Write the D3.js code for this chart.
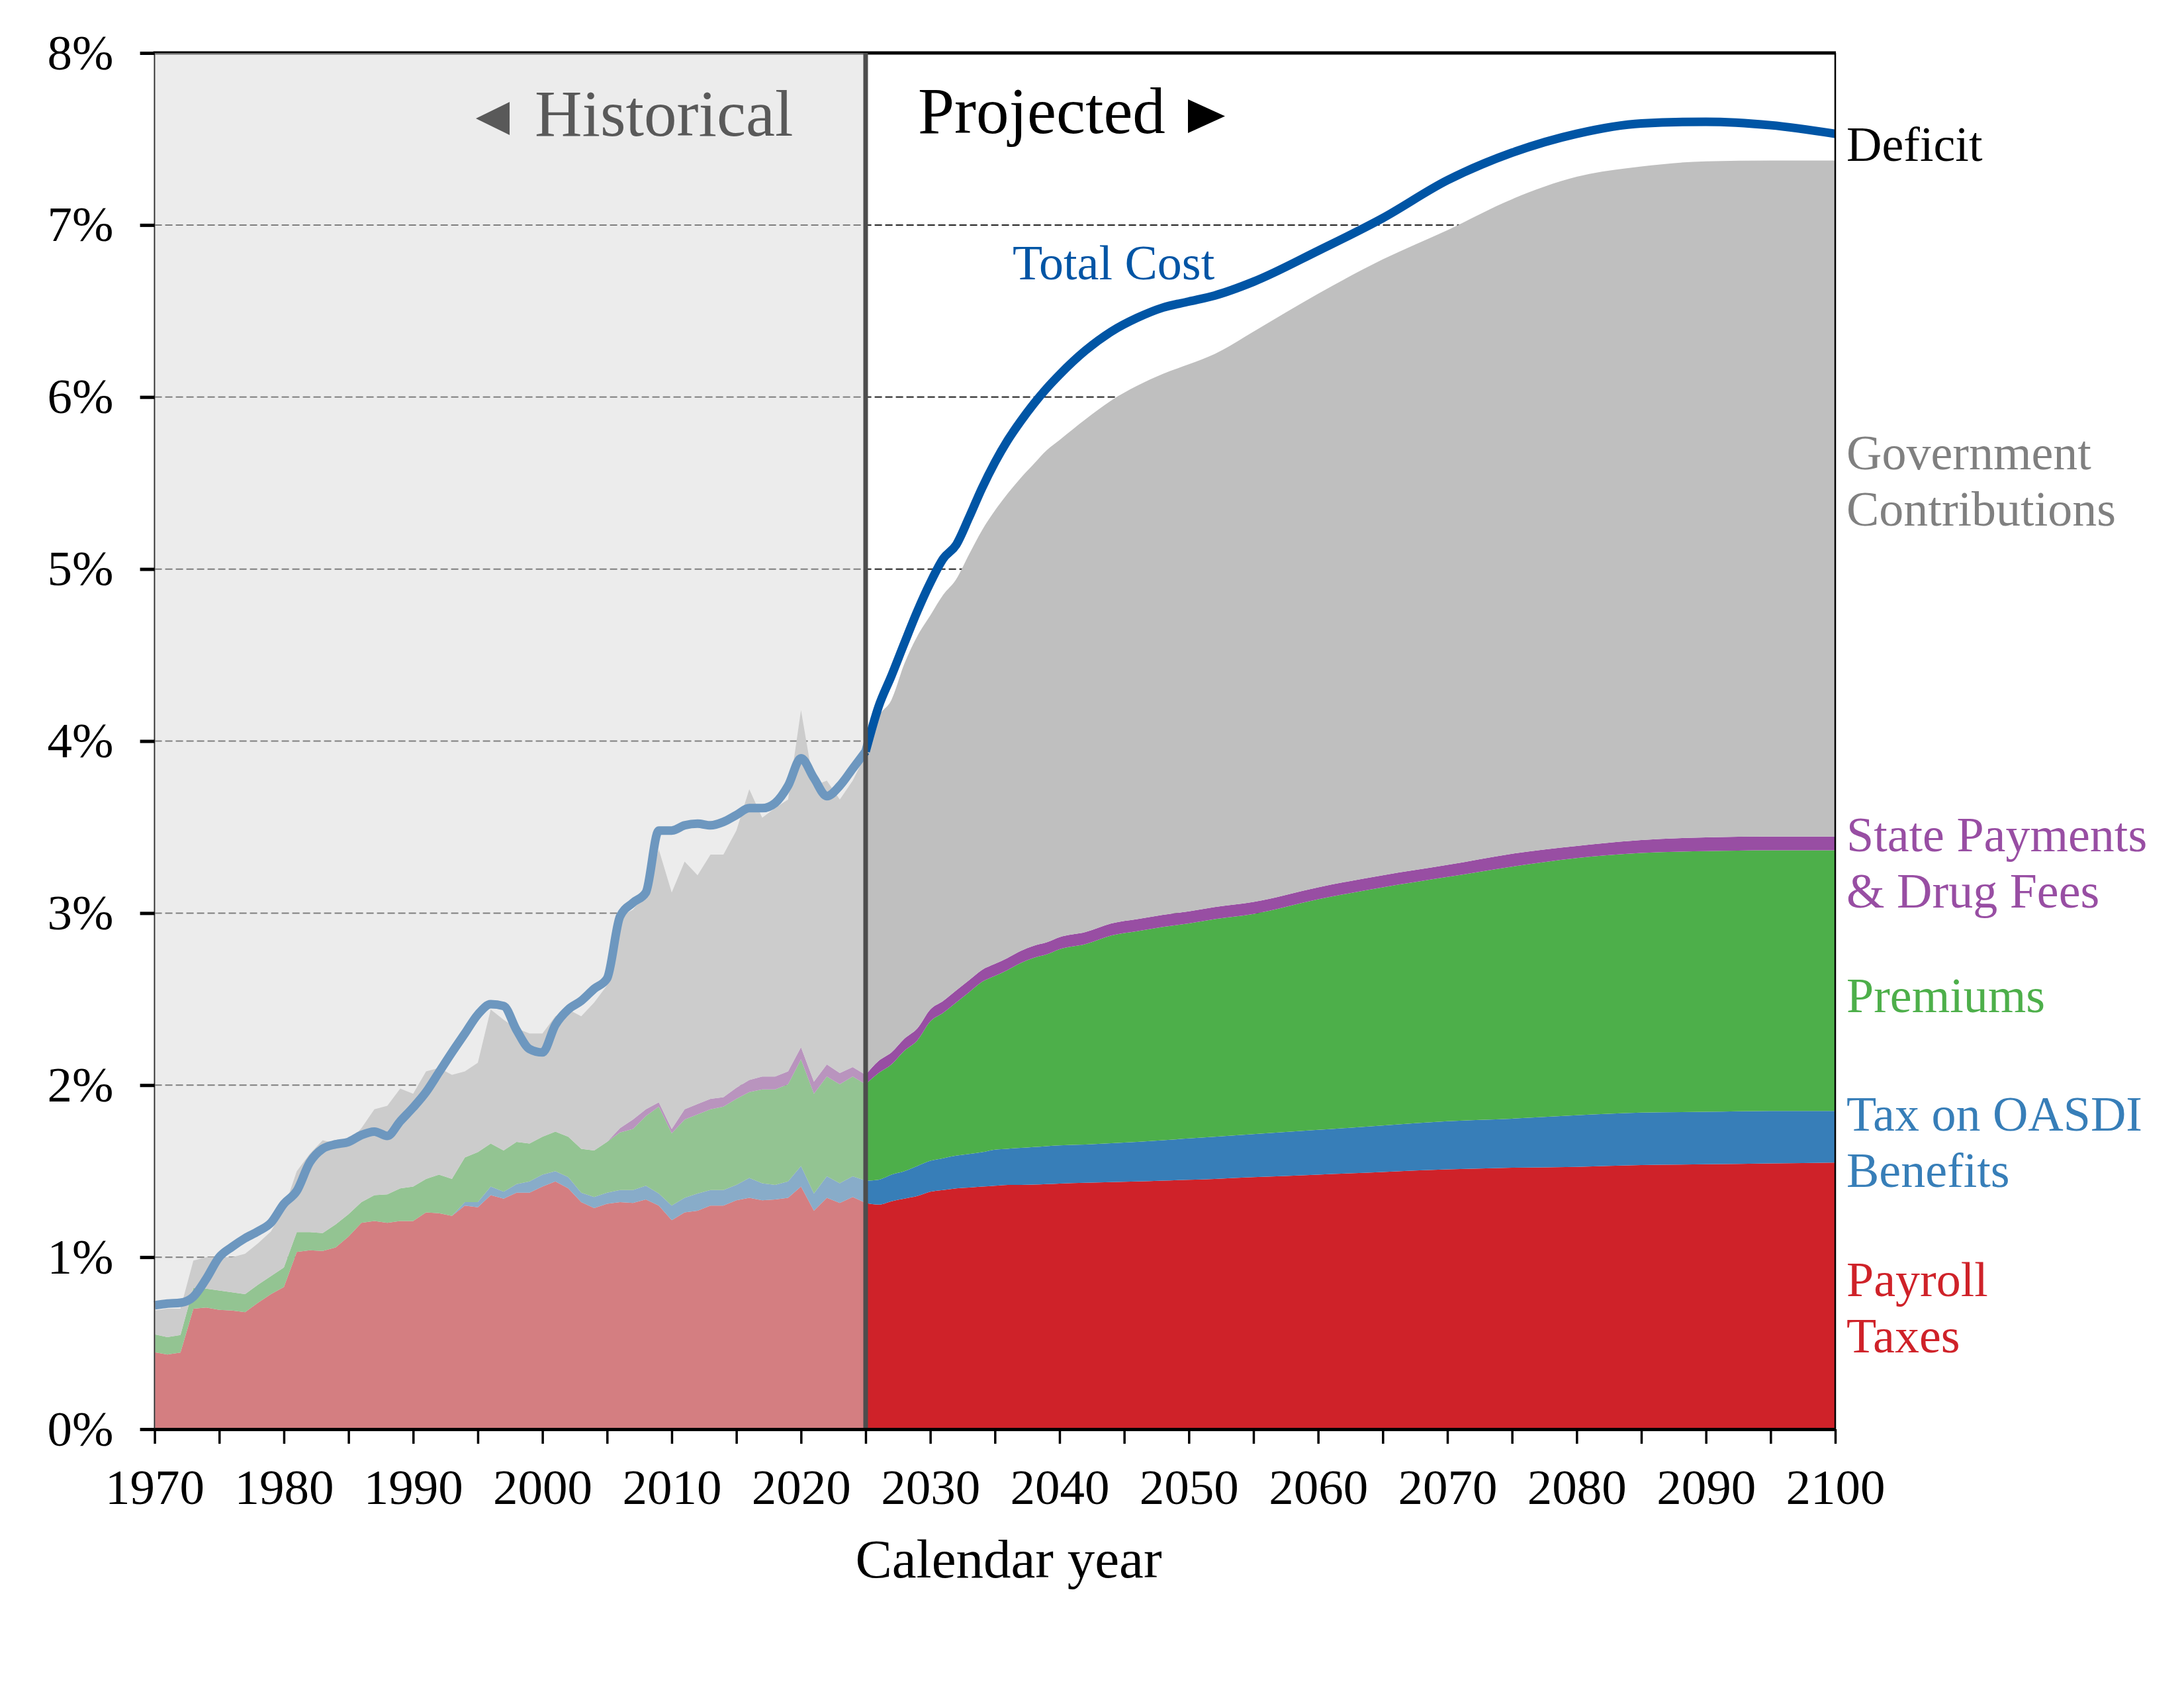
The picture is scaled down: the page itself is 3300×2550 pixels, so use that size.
<!DOCTYPE html>
<html lang="en">
<head>
    <meta charset="UTF-8">
    <title>SMI income and cost</title>
    <script src="https://cdn.jsdelivr.net/npm/d3@7"></script>
    <style>
        body{
            margin: 0;
            background: white;
        }
        text{
            font-family: "Liberation Serif", "Times New Roman", serif;
        }
    </style>
</head>
<body>
</body>
<script type="text/javascript">

    // historical years 1970-2025, percent of GDP
    let histYears = d3.range(1970, 2026);
    let histPayroll = [.447,.434,.445,.70,.707,.694,.69,.68,.735,.785,
        .826,1.03,1.04,1.036,1.056,1.12,1.20,1.21,1.20,1.21,
        1.21,1.26,1.255,1.24,1.30,1.29,1.36,1.34,1.375,1.375,
        1.41,1.44,1.40,1.32,1.285,1.31,1.32,1.315,1.335,1.30,
        1.215,1.26,1.27,1.30,1.30,1.33,1.345,1.33,1.335,1.345,
        1.41,1.27,1.345,1.315,1.35,1.315];
    let histOasdiTax = [0,0,0,0,0,0,0,0,0,0,
        0,0,0,0,0,0,0,0,0,0,
        0,0,0,0,.02,.03,.05,.04,.05,.065,
        .07,.06,.065,.055,.065,.065,.07,.075,.08,.07,
        .085,.085,.10,.09,.09,.09,.115,.10,.085,.095,
        .12,.10,.125,.115,.12,.13];
    let histPremiums = [.104,.101,.102,.12,.11,.112,.106,.105,.105,.105,
        .114,.116,.106,.104,.134,.13,.12,.15,.165,.19,
        .20,.195,.225,.215,.26,.29,.25,.24,.245,.22,
        .22,.23,.235,.255,.27,.295,.335,.355,.405,.505,
        .42,.455,.46,.47,.485,.50,.50,.545,.555,.565,
        .62,.58,.58,.575,.58,.56];
    let histStateDrug = [0,0,0,0,0,0,0,0,0,0,
        0,0,0,0,0,0,0,0,0,0,
        0,0,0,0,0,0,0,0,0,0,
        0,0,0,0,0,0,.025,.055,.04,.025,
        .025,.06,.06,.06,.055,.065,.07,.075,.075,.075,
        .07,.07,.07,.065,.055,.055];
    let histGovContrib = [.139,.165,.153,.16,.183,.194,.204,.235,.24,.26,
        .34,.354,.454,.54,.47,.42,.43,.50,.515,.58,
        .54,.625,.62,.605,.50,.52,.78,.76,.66,.64,
        .60,.67,.74,.77,.86,.91,1.23,1.22,1.25,1.47,
        1.375,1.44,1.33,1.42,1.41,1.495,1.69,1.505,1.56,1.58,
        1.96,1.72,1.65,1.59,1.665,1.86];
    let histTotalCost = [.72,.73,.735,.77,.875,1.00,1.06,1.11,1.15,1.20,
        1.31,1.385,1.55,1.63,1.656,1.67,1.71,1.73,1.705,1.79,
        1.87,1.96,2.075,2.19,2.30,2.41,2.47,2.46,2.32,2.21,
        2.19,2.35,2.44,2.49,2.56,2.62,2.98,3.06,3.12,3.48,
        3.48,3.51,3.52,3.51,3.53,3.57,3.61,3.61,3.64,3.74,
        3.90,3.785,3.68,3.74,3.84,3.94];

    // projected years
    let projYears = [2025,2026,2027,2028,2029,2030,2031,2032,2033,2034,2035,2036,2037,2038,2039,2040,
        2042,2044,2046,2048,2050,2052,2055,2060,2065,2070,2075,2080,2085,2090,2095,2100];
    let projPayroll = [1.315,1.305,1.325,1.34,1.355,1.38,1.39,1.40,1.405,1.41,1.415,1.42,1.42,1.422,1.425,1.428,
        1.432,1.436,1.44,1.445,1.45,1.455,1.465,1.48,1.495,1.51,1.52,1.525,1.535,1.54,1.545,1.55];
    let projOasdiTax = [.13,.145,.155,.16,.175,.18,.185,.19,.195,.20,.21,.21,.215,.218,.22,.222,
        .223,.226,.23,.235,.24,.245,.25,.26,.27,.28,.285,.30,.305,.305,.305,.30];
    let projPremiums = [.56,.62,.64,.70,.73,.81,.845,.89,.94,.99,1.01,1.04,1.075,1.10,1.115,1.14,
        1.165,1.208,1.225,1.24,1.25,1.265,1.28,1.34,1.385,1.42,1.465,1.495,1.51,1.515,1.515,1.515];
    let projStateDrug = [.055,.07,.07,.07,.07,.07,.07,.07,.07,.07,.07,.07,.07,.07,.07,.07,
        .07,.07,.07,.07,.07,.07,.07,.07,.07,.07,.075,.07,.075,.08,.08,.08];
    let projGovContrib = [1.86,2.00,2.05,2.18,2.28,2.29,2.36,2.39,2.475,2.555,2.635,2.70,2.75,2.80,2.86,2.89,
        2.98,3.04,3.10,3.145,3.18,3.215,3.315,3.45,3.58,3.69,3.805,3.89,3.915,3.93,3.93,3.93];
    let projTotalCost = [3.94,4.20,4.38,4.57,4.755,4.92,5.06,5.14,5.30,5.47,5.62,5.75,5.86,5.96,6.05,6.13,
        6.27,6.38,6.46,6.52,6.555,6.59,6.67,6.85,7.04,7.26,7.42,7.53,7.59,7.60,7.58,7.53];

    let yTicks = [0,1,2,3,4,5,6,7,8];
    let xTicks = d3.range(1970, 2101, 5);

    let keys = ["payroll","oasdiTax","premiums","stateDrug","govContrib"];
    let colors = {
        payroll: "#cf2229",
        oasdiTax: "#377eb8",
        premiums: "#4daf4a",
        stateDrug: "#984ea3",
        govContrib: "#bfbfbf"
    };

    function makeRows(years, payroll, oasdiTax, premiums, stateDrug, govContrib, cost){
        return years.map((yr,i)=>({
            year: yr,
            payroll: payroll[i],
            oasdiTax: oasdiTax[i],
            premiums: premiums[i],
            stateDrug: stateDrug[i],
            govContrib: govContrib[i],
            cost: cost[i]
        }));
    }
    let histRows = makeRows(histYears, histPayroll, histOasdiTax, histPremiums, histStateDrug, histGovContrib, histTotalCost);
    let projRows = makeRows(projYears, projPayroll, projOasdiTax, projPremiums, projStateDrug, projGovContrib, projTotalCost);

    let width = 3300;
    let height = 2550;
    let plotLeft = 233.6, plotRight = 2773, plotTop = 80, plotBottom = 2159;

    let svg = d3.select("body")
        .append("svg")
        .attr("width", width)
        .attr("height", height);

    let x = d3.scaleLinear().domain([1970, 2100]).range([plotLeft, plotRight]);
    let y = d3.scaleLinear().domain([0, 8]).range([plotBottom, plotTop]);

    // dashed gridlines (under the areas)
    svg.append("g")
        .selectAll("line")
        .data(yTicks.filter(d => d > 0 && d < 8))
        .join("line")
        .attr("x1", plotLeft)
        .attr("x2", plotRight)
        .attr("y1", d => y(d))
        .attr("y2", d => y(d))
        .attr("stroke", "#222")
        .attr("stroke-width", 2)
        .attr("stroke-dasharray", "11,5");

    let stack = d3.stack().keys(keys);

    function drawAreas(rows, curve){
        let area = d3.area()
            .x(d => x(d.data.year))
            .y0(d => y(d[0]))
            .y1(d => y(d[1]))
            .curve(curve);
        svg.append("g")
            .selectAll("path")
            .data(stack(rows))
            .join("path")
            .attr("fill", d => colors[d.key])
            .attr("d", area);
    }
    drawAreas(histRows, d3.curveLinear);
    drawAreas(projRows, d3.curveMonotoneX);

    function drawCost(rows){
        let line = d3.line()
            .x(d => x(d.year))
            .y(d => y(d.cost))
            .curve(d3.curveMonotoneX);
        svg.append("path")
            .datum(rows)
            .attr("fill", "none")
            .attr("stroke", "#0055a5")
            .attr("stroke-width", 13)
            .attr("stroke-linejoin", "round")
            .attr("d", line);
    }
    drawCost(histRows);
    drawCost(projRows);

    // frame
    svg.append("line")
        .attr("x1", plotLeft - 2).attr("x2", plotRight + 1)
        .attr("y1", plotTop).attr("y2", plotTop)
        .attr("stroke", "black").attr("stroke-width", 5);
    svg.append("line")
        .attr("x1", plotRight).attr("x2", plotRight)
        .attr("y1", plotTop).attr("y2", plotBottom)
        .attr("stroke", "black").attr("stroke-width", 2.5);
    svg.append("line")
        .attr("x1", plotLeft).attr("x2", plotLeft)
        .attr("y1", plotTop).attr("y2", plotBottom)
        .attr("stroke", "black").attr("stroke-width", 2);

    // historical shading
    svg.append("rect")
        .attr("x", x(1970))
        .attr("y", plotTop)
        .attr("width", x(2025) - x(1970))
        .attr("height", plotBottom - plotTop)
        .attr("fill", "#d9d9d9")
        .attr("fill-opacity", 0.5);
    svg.append("line")
        .attr("x1", x(2025)).attr("x2", x(2025))
        .attr("y1", plotTop).attr("y2", plotBottom)
        .attr("stroke", "#4d4d4d").attr("stroke-width", 7);

    // axes
    let xAxis = d3.axisBottom(x)
        .tickValues(xTicks)
        .tickFormat(d => d % 10 === 0 ? d : "")
        .tickSize(22)
        .tickSizeOuter(0)
        .tickPadding(38);
    let xAxisGroup = svg.append("g")
        .attr("transform", `translate(0,${plotBottom})`);
    xAxis(xAxisGroup);
    xAxisGroup.attr("font-family", "Liberation Serif").attr("font-size", 75);
    xAxisGroup.select(".domain").attr("stroke-width", 5);
    xAxisGroup.selectAll(".tick line").attr("stroke-width", 3.5);

    let yAxis = d3.axisLeft(y)
        .tickValues(yTicks)
        .tickFormat(d => d + "%")
        .tickSize(22)
        .tickPadding(40);
    let yAxisGroup = svg.append("g")
        .attr("transform", `translate(${plotLeft},0)`);
    yAxis(yAxisGroup);
    yAxisGroup.attr("font-family", "Liberation Serif").attr("font-size", 75);
    yAxisGroup.select(".domain").remove();
    yAxisGroup.selectAll(".tick line").attr("stroke-width", 5);

    svg.append("text")
        .attr("x", 1524)
        .attr("y", 2383)
        .attr("text-anchor", "middle")
        .attr("font-size", 83)
        .text("Calendar year");

    // period markers
    svg.append("path")
        .attr("d", "M719,179 L770,154 L770,204 Z")
        .attr("fill", "#595959");
    svg.append("text")
        .attr("x", 808)
        .attr("y", 205)
        .attr("font-size", 99)
        .attr("fill", "#595959")
        .text("Historical");
    svg.append("text")
        .attr("x", 1387)
        .attr("y", 201)
        .attr("font-size", 99)
        .attr("fill", "black")
        .text("Projected");
    svg.append("path")
        .attr("d", "M1795,150 L1851,175.5 L1795,201 Z")
        .attr("fill", "black");

    svg.append("text")
        .attr("x", 1530)
        .attr("y", 422)
        .attr("font-size", 74)
        .attr("fill", "#0055a5")
        .text("Total Cost");

    // right side labels
    let labels = [
        { lines: ["Deficit"], y: 243, color: "black" },
        { lines: ["Government", "Contributions"], y: 709, color: "#808080" },
        { lines: ["State Payments", "& Drug Fees"], y: 1286, color: "#984ea3" },
        { lines: ["Premiums"], y: 1529, color: "#4daf4a" },
        { lines: ["Tax on OASDI", "Benefits"], y: 1708, color: "#377eb8" },
        { lines: ["Payroll", "Taxes"], y: 1958, color: "#cf2229" }
    ];
    labels.forEach(l => {
        let t = svg.append("text")
            .attr("x", 2790)
            .attr("y", l.y)
            .attr("font-size", 74)
            .attr("fill", l.color);
        l.lines.forEach((s, i) => {
            t.append("tspan")
                .attr("x", 2790)
                .attr("dy", i === 0 ? 0 : 85)
                .text(s);
        });
    });
</script>
</html>
